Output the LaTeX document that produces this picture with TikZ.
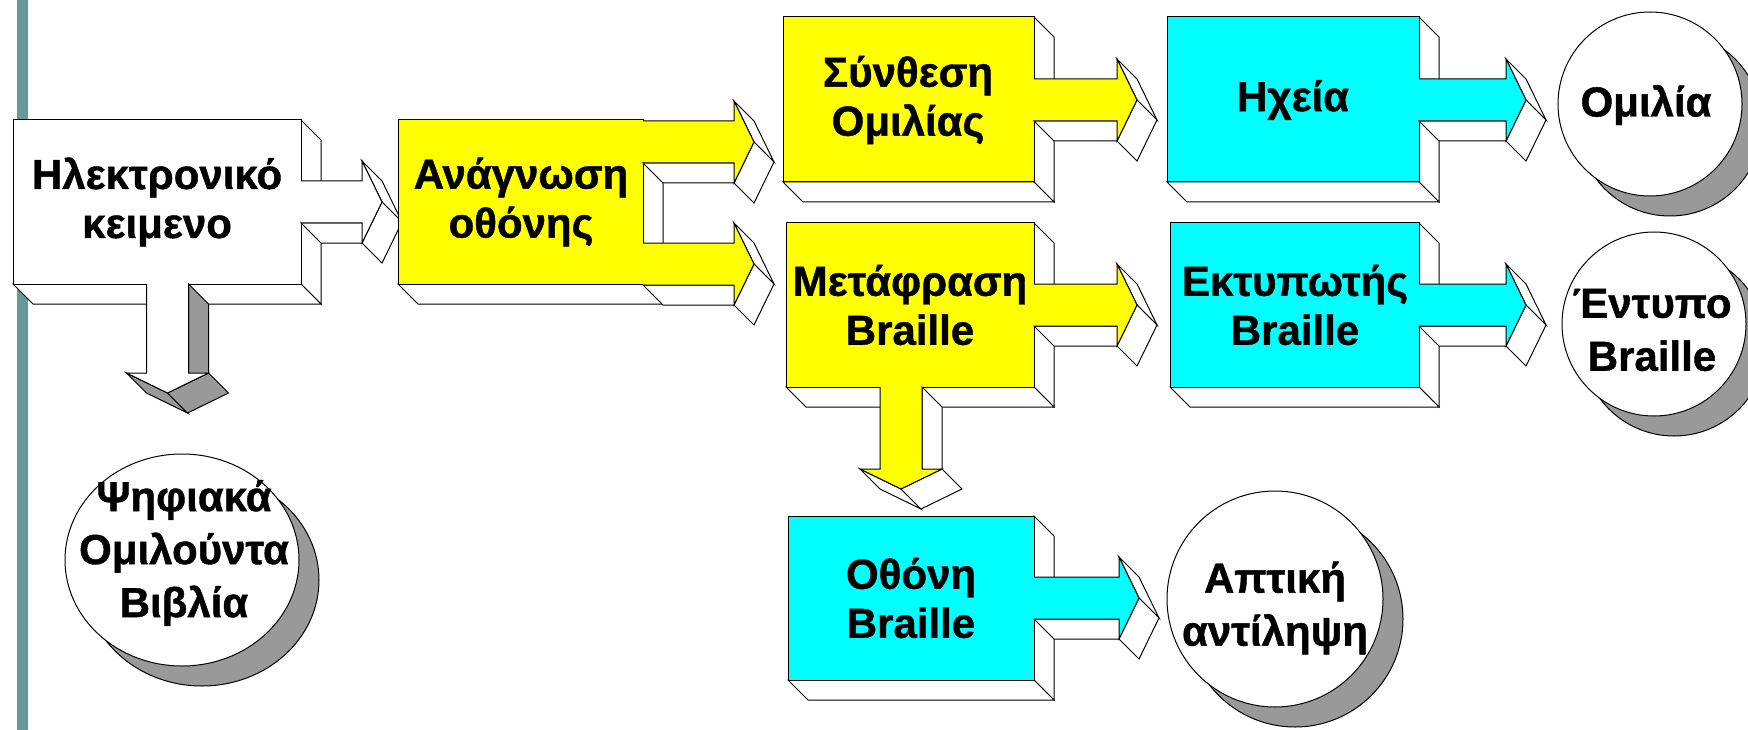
\documentclass[tikz,border=0pt]{standalone}
\usepackage{fontspec}
\setmainfont{Liberation Sans}[BoldFeatures={FakeBold=1}]
\definecolor{barteal}{RGB}{102,153,153}
\definecolor{shadowgray}{RGB}{153,153,153}
\definecolor{boxyellow}{RGB}{255,255,0}
\definecolor{boxcyan}{RGB}{0,255,255}
\tikzset{
  face/.style={fill=white,draw=black,line width=1pt,line join=miter},
  edge/.style={draw=black,line width=1pt,line join=miter},
  txt/.style={align=center,inner sep=0pt,font=\bfseries\fontsize{42}{49}\selectfont},
  ctxt/.style={align=center,inner sep=0pt,font=\bfseries\fontsize{42}{53}\selectfont},
  shadowdisc/.style={fill=shadowgray,draw=black,line width=1pt},
  disc/.style={fill=white,draw=black,line width=1pt}
}
% 3D box: x1,y1,x2,y2,fill
\newcommand{\tdbox}[5]{%
  \filldraw[face] (#3,#2) -- (#3+20,#2+20) -- (#3+20,#4+20) -- (#3,#4) -- cycle;
  \filldraw[face] (#1,#4) -- (#3,#4) -- (#3+20,#4+20) -- (#1+20,#4+20) -- cycle;
  \filldraw[edge,fill=#5] (#1,#2) rectangle (#3,#4);}
% 3D right arrow: x start, y centre, x head base, fill
\newcommand{\tdrarrow}[4]{%
  \filldraw[face] (#1,#2+21) -- (#3,#2+21) -- (#3+20,#2+41) -- (#1+20,#2+41) -- cycle;
  \filldraw[face] (#3,#2-41) -- (#3+20,#2) -- (#3+40,#2+20) -- (#3+20,#2-21) -- cycle;
  \filldraw[face] (#3+20,#2) -- (#3,#2+41) -- (#3+20,#2+61) -- (#3+40,#2+20) -- cycle;
  \fill[#4] (#1,#2-21) -- (#3,#2-21) -- (#3,#2-41) -- (#3+20,#2) -- (#3,#2+41) -- (#3,#2+21) -- (#1,#2+21) -- cycle;
  \draw[edge] (#1,#2-21) -- (#3,#2-21) -- (#3,#2-41) -- (#3+20,#2) -- (#3,#2+41) -- (#3,#2+21) -- (#1,#2+21);}
% 3D down arrow: x centre, y start, y head base, fill, side fill
\newcommand{\tddarrow}[5]{%
  \filldraw[face,fill=#5] (#1+21,#2) -- (#1+21,#3) -- (#1+41,#3+20) -- (#1+41,#2+20) -- cycle;
  \filldraw[face,fill=#5] (#1-41,#3) -- (#1,#3+20) -- (#1+20,#3+40) -- (#1-21,#3+20) -- cycle;
  \filldraw[face,fill=#5] (#1,#3+20) -- (#1+41,#3) -- (#1+61,#3+20) -- (#1+20,#3+40) -- cycle;
  \fill[#4] (#1-21,#2) -- (#1-21,#3) -- (#1-41,#3) -- (#1,#3+20) -- (#1+41,#3) -- (#1+21,#3) -- (#1+21,#2) -- cycle;
  \draw[edge] (#1-21,#2) -- (#1-21,#3) -- (#1-41,#3) -- (#1,#3+20) -- (#1+41,#3) -- (#1+21,#3) -- (#1+21,#2);}
\begin{document}
\begin{tikzpicture}[x=1pt,y=-1pt]
\useasboundingbox (0,0) rectangle (1748,730);
\clip (0,0) rectangle (1748,730);
\fill[white] (0,0) rectangle (1748,730);
% left bar
\fill[barteal] (17,0) rectangle (28,730);
% Box 1
\tdbox{13}{120}{301}{284}{white}
\tdrarrow{301}{202}{362}{white}
\tddarrow{167.5}{284}{373}{white}{shadowgray}
% Box 2
\tdbox{398}{120}{643}{284}{boxyellow}
\tdrarrow{643}{142}{734}{boxyellow}
\tdrarrow{643}{264}{734}{boxyellow}
% Box 3
\tdbox{783}{17}{1034}{182}{boxyellow}
\tdrarrow{1034}{100}{1117}{boxyellow}
% Box 4
\tdbox{786}{223}{1034}{387}{boxyellow}
\tdrarrow{1034}{305}{1117}{boxyellow}
\tddarrow{901}{387}{469}{boxyellow}{white}
% Box 5
\tdbox{1167}{17}{1419}{182}{boxcyan}
\tdrarrow{1419}{100}{1506}{boxcyan}
% Box 6
\tdbox{1170}{223}{1419}{387}{boxcyan}
\tdrarrow{1419}{305}{1506}{boxcyan}
% Box 7
\tdbox{788}{516}{1034}{680}{boxcyan}
\tdrarrow{1034}{598}{1119}{boxcyan}
% circles
\filldraw[shadowdisc] (1670,124) ellipse [x radius=92pt, y radius=92pt];
\filldraw[disc] (1650,104) ellipse [x radius=92pt, y radius=92pt];
\filldraw[shadowdisc] (1674,344) ellipse [x radius=92pt, y radius=92pt];
\filldraw[disc] (1654,324) ellipse [x radius=92pt, y radius=92pt];
\filldraw[shadowdisc] (1295,619) ellipse [x radius=108pt, y radius=108pt];
\filldraw[disc] (1275,599) ellipse [x radius=108pt, y radius=108pt];
\filldraw[shadowdisc] (202,580) ellipse [x radius=117pt, y radius=106pt];
\filldraw[disc] (182,560) ellipse [x radius=117pt, y radius=106pt];
% texts
\node[txt] (t1) at (157,202) {Ηλεκτρονικό\\κειμενο};
\node[txt] (t2) at (521,202) {Ανάγνωση\\οθόνης};
\node[txt] (t3) at (908,100) {Σύνθεση\\Ομιλίας};
\node[txt] (t4) at (910,305) {Μετάφραση\\Braille};
\node[txt] (t5) at (1293,100) {Ηχεία};
\node[txt] (t6) at (1295,305) {Εκτυπωτής\\Braille};
\node[txt] (t7) at (911,598) {Οθόνη\\Braille};
\node[ctxt] (c1) at (1646,105) {Ομιλία};
\node[ctxt] (c2) at (1652,330) {Έντυπο\\Braille};
\node[ctxt] (c3) at (1275,608) {Απτική\\αντίληψη};
\node[ctxt] (c4) at (184,553) {Ψηφιακά\\Ομιλούντα\\Βιβλία};
\end{tikzpicture}
\end{document}
